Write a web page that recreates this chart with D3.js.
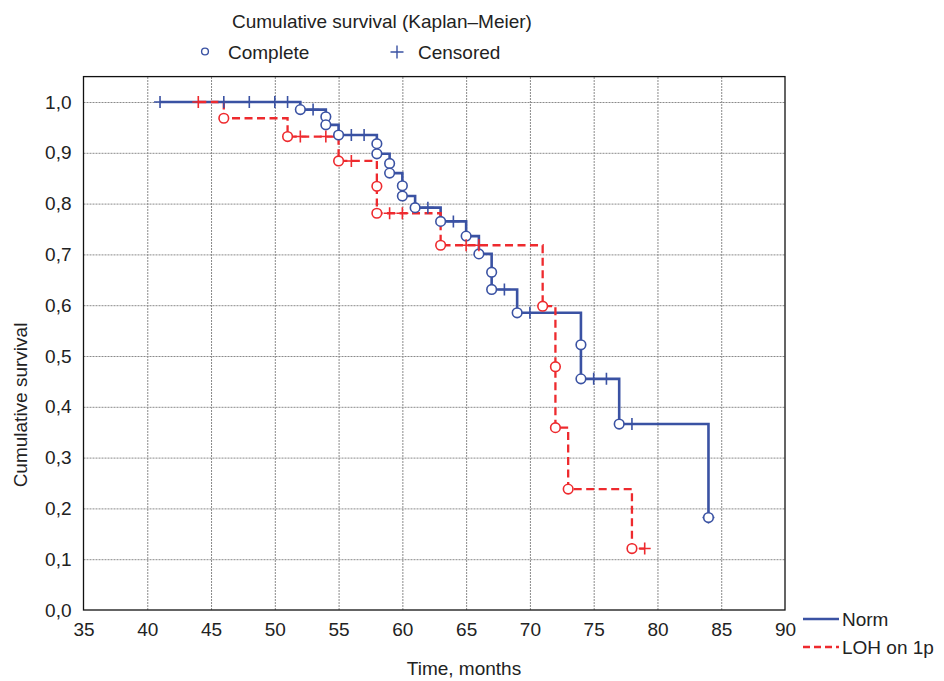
<!DOCTYPE html>
<html>
<head>
<meta charset="utf-8">
<script src="https://cdn.jsdelivr.net/npm/d3@7"></script>
<style>
  html, body { margin: 0; padding: 0; background: #fff; }
  text { font-family: "Liberation Sans", Arial, sans-serif; fill: #222; }
</style>
</head>
<body>
<svg id="chart" width="944" height="681"></svg>
<script>
// ---- data ----
const xTicks = [35, 40, 45, 50, 55, 60, 65, 70, 75, 80, 85, 90];
const yTicks = [0, 0.1, 0.2, 0.3, 0.4, 0.5, 0.6, 0.7, 0.8, 0.9, 1.0];

const seriesNames = ["Norm", "LOH on 1p"];

// Norm: event times (complete) and survival after each event
const normEventTimes = [52, 54, 54, 55, 58, 58, 59, 59, 60, 60, 61, 63, 65, 66, 67, 67, 69, 74, 74, 77, 84];
const normEventSurv  = [0.985, 0.971, 0.955, 0.935, 0.918, 0.898, 0.879, 0.860, 0.835, 0.815, 0.792, 0.765, 0.736, 0.701, 0.665, 0.631, 0.585, 0.522, 0.455, 0.366, 0.182];
const normCensored   = [41, 46, 48, 50, 51, 53, 56, 57, 62, 64, 68, 70, 75, 76, 78, 84];

// LOH on 1p
const lohEventTimes = [46, 51, 55, 58, 58, 63, 71, 72, 72, 73, 78];
const lohEventSurv  = [0.968, 0.932, 0.884, 0.834, 0.781, 0.718, 0.598, 0.479, 0.359, 0.238, 0.121];
const lohCensored   = [44, 52, 54, 56, 59, 60, 65, 66, 79];

// ---- layout ----
const svg = d3.select("#chart");
const X0 = 83.5, X1 = 785, Y0 = 610, Y1 = 76.6;
const x = d3.scaleLinear().domain([35, 90]).range([X0, X1]);
const y = d3.scaleLinear().domain([0, 1.05]).range([Y0, Y1]);

const BLUE = "#3a52a3", RED = "#ee2a2e";
const FS = 19;
const fmt = v => d3.format(".1f")(v).replace(".", ",");

// grid + axes
const gx = svg.append("g").attr("transform", `translate(0,${Y0})`)
  .call(d3.axisBottom(x).tickValues(xTicks).tickSizeInner(-(Y0 - Y1)).tickSizeOuter(0).tickPadding(13));
const gy = svg.append("g").attr("transform", `translate(${X0},0)`)
  .call(d3.axisLeft(y).tickValues(yTicks).tickFormat(fmt).tickSizeInner(-(X1 - X0)).tickSizeOuter(0).tickPadding(12));
[gx, gy].forEach(g => {
  g.select(".domain").remove();
  g.selectAll(".tick line").attr("stroke", "#8a8a8a").attr("stroke-width", 1).attr("stroke-dasharray", "2,1");
  g.selectAll(".tick text").style("font-family", "Liberation Sans, Arial, sans-serif").style("font-size", FS + "px").attr("fill", "#222");
});
gx.selectAll(".tick").filter(d => d === 35 || d === 90).select("line").remove();
gy.selectAll(".tick").filter(d => d === 0).select("line").remove();

// frame
svg.append("rect").attr("x", X0).attr("y", Y1).attr("width", X1 - X0).attr("height", Y0 - Y1)
  .attr("fill", "none").attr("stroke", "#111").attr("stroke-width", 1.3);

// ---- series ----
function build(times, surv, cens) {
  const start = Math.min(times[0], d3.min(cens));
  const endT = Math.max(times[times.length - 1], d3.max(cens));
  const pts = [[start, 1]];
  times.forEach((t, i) => pts.push([t, surv[i]]));
  const S = t => { let s = 1; times.forEach((tt, i) => { if (tt <= t) s = surv[i]; }); return s; };
  pts.push([endT, S(endT)]);
  const events = times.map((t, i) => [t, surv[i]]);
  const censored = cens.map(t => [t, S(t)]);
  return { pts, events, censored };
}
const series = [
  { name: seriesNames[0], color: BLUE, dash: null, width: 2.6, ...build(normEventTimes, normEventSurv, normCensored) },
  { name: seriesNames[1], color: RED, dash: "8,4.5", width: 2.3, ...build(lohEventTimes, lohEventSurv, lohCensored) }
];

const line = d3.line().x(d => x(d[0])).y(d => y(d[1])).curve(d3.curveStepAfter);
series.forEach(s => {
  svg.append("path").attr("d", line(s.pts)).attr("fill", "none")
    .attr("stroke", s.color).attr("stroke-width", s.width)
    .attr("stroke-dasharray", s.dash);
});
const PH = 6;
series.forEach(s => {
  const g = svg.append("g");
  g.selectAll("path.cens").data(s.censored).join("path").attr("class", "cens")
    .attr("d", d => `M${x(d[0]) - PH},${y(d[1])}H${x(d[0]) + PH}M${x(d[0])},${y(d[1]) - PH}V${y(d[1]) + PH}`)
    .attr("stroke", s.color).attr("stroke-width", 1.6).attr("fill", "none");
  g.selectAll("circle").data(s.events).join("circle")
    .attr("cx", d => x(d[0])).attr("cy", d => y(d[1])).attr("r", 4.8)
    .attr("fill", "#fff").attr("stroke", s.color).attr("stroke-width", 1.6);
});

// ---- titles ----
svg.append("text").attr("x", 232).attr("y", 28).style("font-size", FS + "px")
  .text("Cumulative survival (Kaplan\u2013Meier)");
svg.append("circle").attr("cx", 205).attr("cy", 51.5).attr("r", 3.4)
  .attr("fill", "#fff").attr("stroke", BLUE).attr("stroke-width", 1.4);
svg.append("text").attr("x", 228).attr("y", 58.5).style("font-size", FS + "px").text("Complete");
svg.append("path").attr("d", `M${397 - 6.5},52H${397 + 6.5}M397,${52 - 6.5}V${52 + 6.5}`)
  .attr("stroke", BLUE).attr("stroke-width", 1.4);
svg.append("text").attr("x", 418).attr("y", 58.5).style("font-size", FS + "px").text("Censored");

svg.append("text").attr("x", 464).attr("y", 675).attr("text-anchor", "middle")
  .style("font-size", FS + "px").text("Time, months");
svg.append("text").attr("transform", "translate(27,405) rotate(-90)").attr("text-anchor", "middle")
  .style("font-size", FS + "px").text("Cumulative survival");

// bottom-right legend
const leg = svg.append("g");
series.forEach((s, i) => {
  const ly = 619 + i * 28;
  leg.append("line").attr("x1", 803).attr("x2", 839).attr("y1", ly).attr("y2", ly)
    .attr("stroke", s.color).attr("stroke-width", s.width).attr("stroke-dasharray", s.dash ? "7,4" : null);
  leg.append("text").attr("x", 842).attr("y", ly + 7).style("font-size", FS + "px").text(s.name);
});
</script>
</body>
</html>
